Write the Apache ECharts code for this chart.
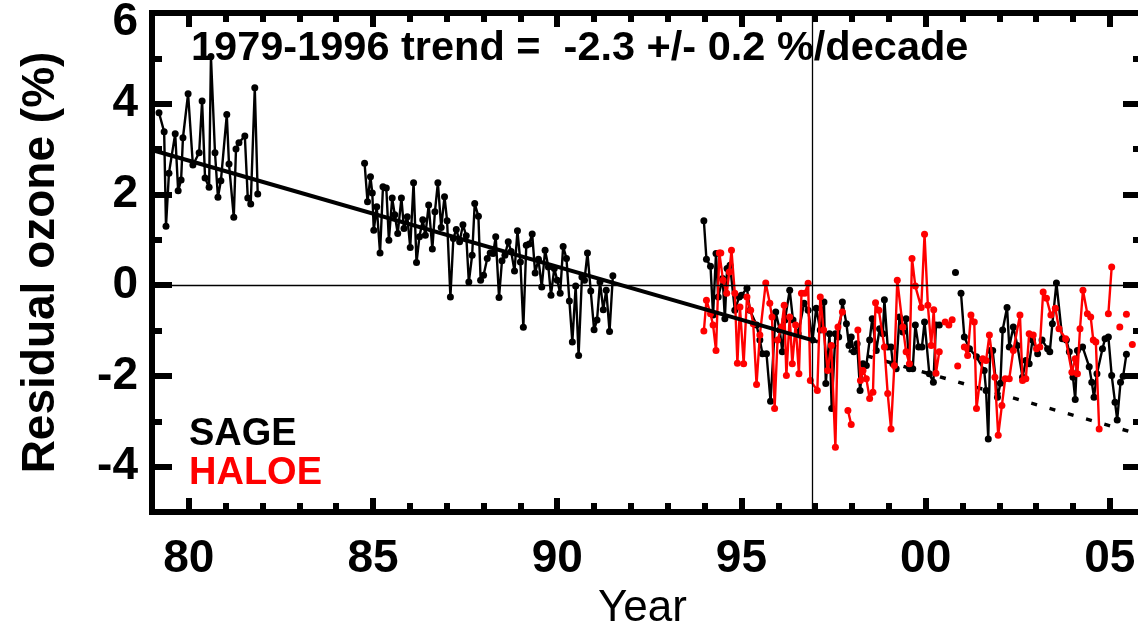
<!DOCTYPE html>
<html><head><meta charset="utf-8">
<script src="https://cdn.jsdelivr.net/npm/echarts@6/dist/echarts.min.js"></script>
<style>html,body{margin:0;padding:0;background:#fff}#c{width:1138px;height:626px}</style>
</head><body><div id="c"></div>
<script>
// ---- data ----
const sageYears = [
79.19,79.33,79.38,79.46,79.63,79.71,79.79,79.84,79.98,80.11,80.28,80.36,80.44,80.55,80.60,80.71,80.79,80.87,81.03,81.09,81.22,81.28,81.36,81.52,81.60,81.68,81.79,81.87,
83.0,
84.77,84.85,84.93,84.98,85.02,85.10,85.19,85.27,85.36,85.43,85.52,85.59,85.67,85.77,85.84,85.93,86.01,86.10,86.18,86.26,86.35,86.42,86.51,86.61,86.68,86.76,86.85,86.94,
87.01,87.10,87.18,87.26,87.35,87.44,87.53,87.60,87.69,87.76,87.86,87.92,88.00,88.10,88.18,88.26,88.33,88.42,88.50,88.58,88.67,88.75,88.84,88.92,
89.00,89.08,89.16,89.24,89.32,89.40,89.49,89.58,89.67,89.76,89.83,89.92,90.00,90.08,90.16,90.25,90.33,90.41,90.50,90.58,90.67,90.74,90.82,90.91,
91.00,91.08,91.16,91.25,91.33,91.42,91.51,
92.5,
93.98,94.05,94.16,94.23,94.31,94.37,94.49,94.55,94.61,94.69,94.82,94.94,95.00,95.15,95.23,95.41,95.50,95.57,95.68,95.79,95.93,96.04,96.11,96.18,96.31,96.40,96.54,96.70,96.81,96.93,
97.03,97.14,97.24,97.29,97.39,97.45,97.55,97.64,97.74,97.85,97.92,97.98,98.05,98.14,98.22,98.30,98.39,98.48,98.55,98.66,98.75,98.84,98.88,98.97,
99.06,99.11,99.20,99.29,99.38,99.47,99.56,99.65,99.72,99.81,99.90,99.97,100.10,100.21,100.28,100.37,
100.6,100.81,100.9,
100.96,101.05,101.19,101.38,101.59,101.64,101.70,101.75,101.82,101.95,102.03,102.09,102.21,102.27,102.38,102.49,102.63,102.72,102.81,102.90,
103.04,103.16,103.31,103.37,103.44,103.55,103.71,103.82,103.90,104.00,104.06,104.12,104.26,104.44,104.51,104.57,104.65,104.80,104.87,104.96,
105.05,105.14,105.20,105.29,105.36,105.45
];
const sageValues = [
3.80,3.38,1.30,2.47,3.34,2.08,2.32,3.25,4.22,2.65,2.92,4.06,2.36,2.16,5.04,2.92,1.94,2.30,3.76,2.67,1.50,3.00,3.14,3.29,1.92,1.79,4.35,2.01,
null,
2.69,1.84,2.39,2.03,1.21,1.73,0.71,2.17,2.14,0.99,1.92,1.55,1.14,1.92,1.25,1.51,0.83,2.26,0.50,1.07,1.44,1.10,1.77,0.80,1.62,2.26,1.27,1.95,
1.42,-0.26,1.03,1.23,0.96,1.33,1.09,0.07,0.66,1.80,1.52,0.11,0.22,0.59,0.71,0.70,1.07,-0.27,0.54,0.66,0.96,0.74,0.31,1.20,
0.51,-0.93,0.88,0.91,1.13,0.27,0.57,-0.04,0.77,0.40,-0.22,0.37,0.11,-0.18,0.85,0.59,-0.35,-1.25,-0.02,-1.55,0.18,0.11,0.71,-0.13,
-0.98,-0.77,0.07,-0.54,-0.11,-1.02,0.21,
null,
1.42,0.57,0.42,-0.66,0.70,-0.26,0.15,-0.74,0.37,0.44,-0.55,-0.26,-0.22,-0.07,-0.55,-0.88,-1.21,-1.51,-1.51,-2.56,-0.59,-0.99,-1.47,-0.77,-0.11,-0.77,-1.07,-0.40,-0.55,-1.21,
-0.51,-0.99,-0.37,-2.17,-1.07,-2.72,-1.07,-1.14,-0.37,-0.85,-1.33,-1.14,-1.47,-1.29,-2.32,-1.73,-1.77,-1.21,-0.74,-1.44,-0.96,-1.07,-0.32,-1.36,
-1.36,-1.73,-1.84,-0.70,-1.03,-0.74,-1.84,-1.84,-0.88,-1.36,-1.36,-0.81,-1.95,-2.14,-0.88,-0.88,
null,0.28,null,
-0.18,-1.14,-1.40,-1.58,-1.88,-2.32,-3.39,-1.44,-1.44,-2.47,-2.16,-0.99,-0.49,-1.36,-0.92,-1.33,-2.03,-1.66,-1.73,-1.21,
-1.51,-1.21,-1.40,-1.47,-0.85,0.05,-1.18,-1.21,-1.47,-2.03,-2.52,-1.44,-1.36,-1.80,-2.14,-2.47,-1.95,-1.40,-1.18,-1.14,
-1.99,-2.58,-2.97,-2.14,-2.01,-1.52
];
const haloeYears = [
93.98,94.05,94.16,94.23,94.31,94.40,94.44,94.50,94.60,94.67,94.73,94.82,94.89,94.96,95.06,95.15,95.25,95.32,95.41,95.50,95.66,95.77,95.83,95.90,95.98,
96.09,96.16,96.22,96.31,96.38,96.47,96.56,96.63,96.72,96.81,96.87,97.06,97.14,97.23,97.34,97.44,97.55,97.62,97.74,
97.80,97.89,97.98,98.05,
98.16,98.23,98.30,98.39,98.48,98.57,98.64,98.73,98.88,98.97,99.06,99.15,99.23,99.38,99.47,99.56,99.63,99.72,99.88,99.97,100.06,100.15,100.22,100.28,100.37,
100.45,100.53,100.63,100.72,100.80,100.87,100.95,
101.05,101.14,101.23,101.32,101.38,101.55,101.64,101.73,101.88,101.97,102.07,102.16,102.27,102.38,102.56,102.63,102.72,102.81,102.92,
103.01,103.10,103.19,103.28,103.40,103.52,103.62,103.80,103.97,104.06,104.12,104.19,104.27,104.39,104.48,104.55,104.62,104.71,
104.85,104.96,105.05,105.15,105.27,105.35,105.45,105.50,105.61
];
const haloeValues = [
-1.01,-0.33,-0.63,-0.88,-1.44,0.71,0.71,0.11,-0.18,0.29,0.77,-0.18,-1.72,-0.48,-1.73,-0.26,-0.55,-0.85,-2.19,-1.10,0.05,-0.40,-0.70,-2.72,-1.21,
-0.92,-0.44,-1.99,-0.70,-1.73,-0.88,-1.95,-0.18,-0.18,0.04,-2.10,-2.32,-0.26,-0.99,-1.88,-1.33,-3.57,-0.92,-0.59,
null,-2.76,-3.07,null,
-0.99,-2.10,-1.88,-2.06,-2.50,-2.36,-0.39,-0.55,-1.36,-2.39,-3.17,-1.77,0.11,-0.92,-1.47,-1.73,0.59,-0.02,-0.49,1.12,-0.44,-1.33,-0.54,-1.94,-1.47,
null,-0.81,-0.88,-0.76,null,-1.78,null,
-1.36,-1.55,-0.66,-0.81,-2.72,-1.62,-1.66,-1.10,-2.03,-3.31,-2.65,-2.06,-2.06,-1.44,-0.66,-2.10,-2.06,-1.07,-1.10,
-1.40,-1.36,-0.15,-0.29,-0.66,-0.51,-0.96,-1.18,-1.92,-1.62,-1.95,-0.96,-0.11,-0.63,-0.70,-1.21,-1.25,-3.17,
null,-0.63,0.40,null,-0.92,null,-0.64,null,-1.31
];
const trendYears = [79.0, 96.92];
const trendValues = [2.98, -1.21];
const extrapYears = [96.92, 105.9];
const extrapValues = [-1.21, -3.31];
const zeroLineValue = 0;
const breakYear = 96.92;
const xMajorTicks = [80, 85, 90, 95, 100, 105];
const xTickLabels = ['80', '85', '90', '95', '00', '05'];
const xMinorTicks = [79,80,81,82,83,84,85,86,87,88,89,90,91,92,93,94,95,96,97,98,99,100,101,102,103,104,105];
const yMajorTicks = [-4, -2, 0, 2, 4, 6];
const yTickLabels = ['-4', '-2', '0', '2', '4', '6'];
const yMinorTicks = [-5,-4,-3,-2,-1,0,1,2,3,4,5,6];
const titleText = '1979-1996 trend =  -2.3 +/- 0.2 %/decade';

// ---- chart ----
const FONT = '"Liberation Sans", Arial, Helvetica, sans-serif';
const X_MIN = 79, X_MAX = 105.9, Y_MIN = -5, Y_MAX = 6;
const pairs = (xs, ys) => xs.map((x, i) => [x, ys[i] === null ? '-' : ys[i]]);

function xAxisDef(pos, ticks, len, labels) {
  return {
    type: 'value', position: pos, min: X_MIN, max: X_MAX,
    axisLine: { show: true, onZero: false, lineStyle: { color: '#000', width: 6, cap: 'square' } },
    axisTick: { show: true, inside: true, length: len, customValues: ticks, lineStyle: { color: '#000', width: 6 } },
    axisLabel: labels ? {
      show: true, customValues: xMajorTicks, margin: 24,
      formatter: v => xTickLabels[xMajorTicks.indexOf(Math.round(v))],
      fontFamily: FONT, fontWeight: 'bold', fontSize: 46, color: '#000'
    } : { show: false },
    splitLine: { show: false }
  };
}
function yAxisDef(pos, ticks, len, labels) {
  return {
    type: 'value', position: pos, min: Y_MIN, max: Y_MAX,
    axisLine: { show: true, onZero: false, lineStyle: { color: '#000', width: 6, cap: 'square' } },
    axisTick: { show: true, inside: true, length: len, customValues: ticks, lineStyle: { color: '#000', width: 6 } },
    axisLabel: labels ? {
      show: true, customValues: yMajorTicks, margin: 14,
      formatter: v => {
        const s = yTickLabels[yMajorTicks.indexOf(Math.round(v))];
        return v === Y_MAX ? '{top|' + s + '}' : '{n|' + s + '}';
      },
      rich: {
        n: { fontFamily: FONT, fontWeight: 'bold', fontSize: 46, color: '#000' },
        top: { fontFamily: FONT, fontWeight: 'bold', fontSize: 46, color: '#000', padding: [18, 0, 0, 0] }
      }
    } : { show: false },
    splitLine: { show: false },
    name: labels ? 'Residual ozone (%)' : '',
    nameLocation: 'middle', nameRotate: 90, nameGap: 88,
    nameTextStyle: { fontFamily: FONT, fontWeight: 'bold', fontSize: 46, color: '#000' }
  };
}

const xAxes = [
  xAxisDef('bottom', xMajorTicks, 14, true),
  xAxisDef('bottom', xMinorTicks, 9, false),
  xAxisDef('top', xMajorTicks, 14, false),
  xAxisDef('top', xMinorTicks, 9, false)
];
xAxes[0].name = 'Year';
xAxes[0].nameLocation = 'middle';
xAxes[0].nameGap = 70;
xAxes[0].nameTextStyle = { fontFamily: FONT, fontSize: 44, color: '#000', padding: [0, 10, 0, 0] };

const yAxes = [
  yAxisDef('left', yMajorTicks, 20, true),
  yAxisDef('left', yMinorTicks, 10, false),
  yAxisDef('right', yMajorTicks, 20, false),
  yAxisDef('right', yMinorTicks, 10, false)
];

const chart = echarts.init(document.getElementById('c'), null, { renderer: 'canvas' });
chart.setOption({
  animation: false,
  backgroundColor: '#fff',
  grid: { left: 152, top: 13, width: 991, height: 499, containLabel: false, outerBoundsMode: 'none' },
  xAxis: xAxes,
  yAxis: yAxes,
  legend: {
    orient: 'vertical', left: 179, top: 411, icon: 'none', itemWidth: 0, itemHeight: 37, itemGap: 1,
    selectedMode: false,
    textStyle: { fontFamily: FONT, fontWeight: 'bold', fontSize: 38, lineHeight: 38 },
    data: [{ name: 'SAGE', textStyle: { color: '#000' } }, { name: 'HALOE', textStyle: { color: '#ff0000' } }]
  },
  graphic: [{
    type: 'text', left: 191, top: 28, silent: true,
    style: { text: titleText, font: 'bold 41.5px ' + FONT, fill: '#000' }
  }],
  series: [
    {
      name: 'SAGE', type: 'line', data: pairs(sageYears, sageValues), xAxisIndex: 0, yAxisIndex: 0,
      connectNulls: false, symbol: 'circle', symbolSize: 7, showSymbol: true,
      itemStyle: { color: '#000' }, lineStyle: { color: '#000', width: 2.4 }, z: 2,
      markLine: {
        silent: true, symbol: 'none', label: { show: false },
        lineStyle: { color: '#000', width: 1.3, type: 'solid' },
        data: [{ yAxis: zeroLineValue }, { xAxis: breakYear }]
      }
    },
    {
      name: 'HALOE', type: 'line', data: pairs(haloeYears, haloeValues), xAxisIndex: 0, yAxisIndex: 0,
      connectNulls: false, symbol: 'circle', symbolSize: 7, showSymbol: true,
      itemStyle: { color: '#ff0000' }, lineStyle: { color: '#ff0000', width: 2.4 }, z: 3
    },
    {
      name: 'trend', type: 'line', data: pairs(trendYears, trendValues), xAxisIndex: 0, yAxisIndex: 0,
      symbol: 'none', lineStyle: { color: '#000', width: 4 }, z: 4
    },
    {
      name: 'extrapolation', type: 'line', data: pairs(extrapYears, extrapValues), xAxisIndex: 0, yAxisIndex: 0,
      symbol: 'none', lineStyle: { color: '#000', width: 3.5, type: [6, 13] }, z: 1
    }
  ]
});
</script></body></html>
